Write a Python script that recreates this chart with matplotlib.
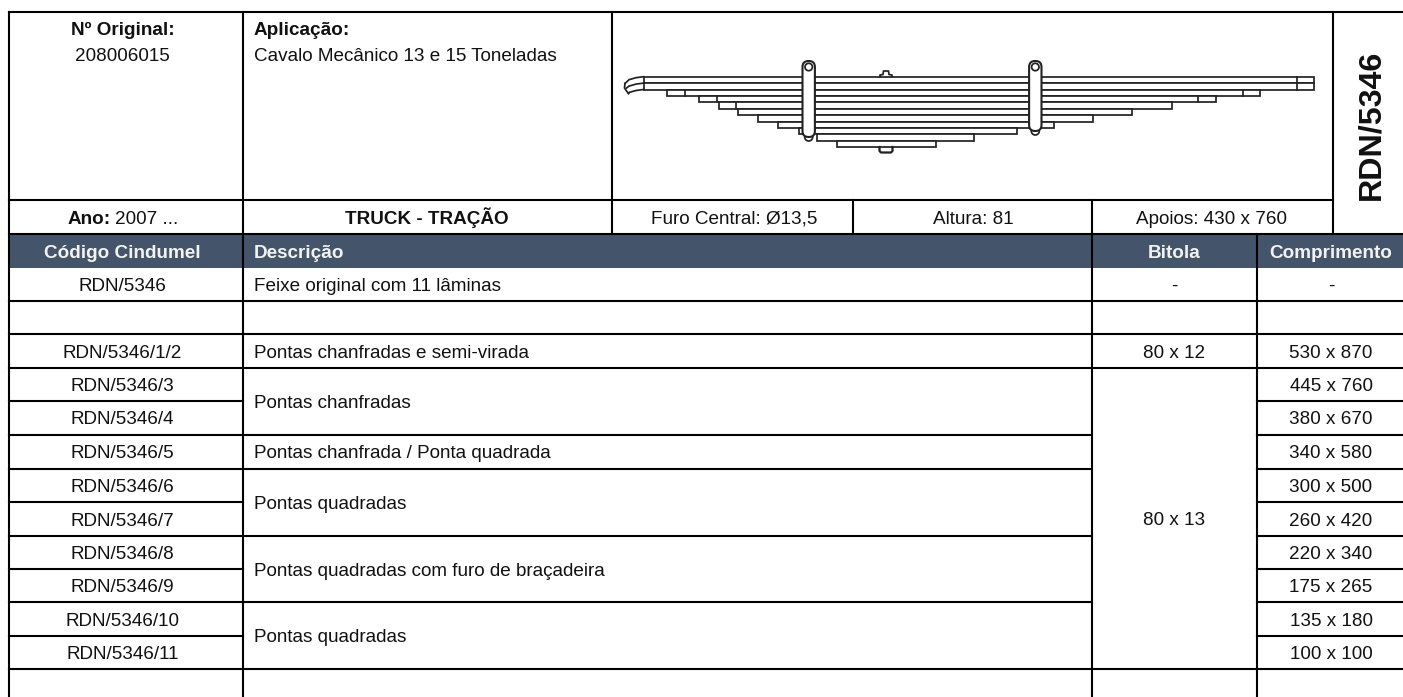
#!/usr/bin/env python3
"""
Ficha tecnica do feixe de molas RDN/5346
"""
import matplotlib
matplotlib.use('Agg')
import matplotlib.pyplot as plt
from matplotlib.patches import Rectangle, Circle, FancyBboxPatch

plt.rcParams['font.family'] = ['Liberation Sans', 'DejaVu Sans']

# table content
headers = ['Código Cindumel', 'Descrição', 'Bitola', 'Comprimento']
codes = ['RDN/5346', '', 'RDN/5346/1/2', 'RDN/5346/3', 'RDN/5346/4', 'RDN/5346/5',
         'RDN/5346/6', 'RDN/5346/7', 'RDN/5346/8', 'RDN/5346/9', 'RDN/5346/10',
         'RDN/5346/11', '']
lengths = ['-', '', '530 x 870', '445 x 760', '380 x 670', '340 x 580', '300 x 500',
           '260 x 420', '220 x 340', '175 x 265', '135 x 180', '100 x 100', '']
# merged cells: text and how many rows each one spans
descriptions = ['Feixe original com 11 lâminas', '', 'Pontas chanfradas e semi-virada',
                'Pontas chanfradas', 'Pontas chanfrada / Ponta quadrada', 'Pontas quadradas',
                'Pontas quadradas com furo de braçadeira', 'Pontas quadradas', '']
description_spans = [1, 1, 1, 2, 1, 2, 2, 2, 1]
gauges = ['-', '', '80 x 12', '80 x 13', '']
gauge_spans = [1, 1, 1, 9, 1]

# pixel grid of the sheet
X_LEFT, X_DESC, X_IMG, X_FURO, X_GAUGE, X_LEN, X_RIGHT, X_END = 9, 243, 612, 853, 1092, 1257, 1333, 1403
Y_TOP, Y_INFO, Y_HEAD, Y_BODY = 12, 200, 234, 268
row_lines = [268, 301, 334, 368, 401, 435, 469, 502, 536, 569, 602, 636, 669, 703]

# spring leaves: left end, right end, inner step left, inner step right
leaf_left = [643.5, 643.5, 667, 699, 718.7, 738, 758, 777.7, 799, 817.3, 836.7]
leaf_right = [1314.3, 1314.3, 1260.3, 1216, 1172, 1132.3, 1093, 1053.7, 1016.7, 974.3, 935.7]
leaf_step_left = [None, None, 684.7, 716.7, 736.3, None, None, None, None, None, None]
leaf_step_right = [1296.7, 1296.7, 1242.7, 1198.3, None, None, None, None, None, None, None]
LEAF_TOP, LEAF_H = 76.7, 6.4

fig = plt.figure(figsize=(14.03, 6.97), dpi=100)
ax = fig.add_axes([0, 0, 1, 1])
ax.set_xlim(0, 1403)
ax.set_ylim(697, 0)
ax.axis('off')

TXT = '#111111'
FS = 13.55
LW = 1.5
SP = 1.25
SPC = '#222222'
BASE = 6.5  # baseline offset under the middle of a row
X_CODE, X_DESC_TXT, X_GAUGE_TXT, X_LEN_TXT = 122.5, 254, 1174, 1331


def hline(x0, x1, y, lw=LW, color='black', z=3):
    ax.plot([x0, x1], [y, y], color=color, lw=lw, solid_capstyle='projecting', zorder=z)


def vline(x, y0, y1, lw=LW, color='black', z=3):
    ax.plot([x, x], [y0, y1], color=color, lw=lw, solid_capstyle='projecting', zorder=z)


def cell(x, y, s, ha='center', **kw):
    ax.text(x, y, s, ha=ha, va='baseline', fontsize=kw.pop('fontsize', FS), color=kw.pop('color', TXT), **kw)


# header band
ax.add_patch(Rectangle((X_LEFT, Y_HEAD), X_END - X_LEFT, Y_BODY - Y_HEAD, fc='#44546A', ec='none', zorder=1))

# grid lines
hline(X_LEFT, X_END, Y_TOP)
hline(X_LEFT, X_RIGHT, Y_INFO)
hline(X_LEFT, X_END, Y_HEAD)
vline(X_LEFT, Y_TOP, 697)
vline(X_DESC, Y_TOP, 697)
vline(X_IMG, Y_TOP, Y_HEAD)
vline(X_FURO, Y_INFO, Y_HEAD)
vline(X_GAUGE, Y_INFO, Y_HEAD)
vline(X_RIGHT, Y_TOP, Y_HEAD)
vline(X_GAUGE, Y_HEAD, 697)
vline(X_LEN, Y_HEAD, 697)

# top block
cell(X_CODE, 35, 'Nº Original:', fontweight='bold')
cell(X_CODE, 61, '208006015')
cell(X_DESC_TXT, 35, 'Aplicação:', ha='left', fontweight='bold')
cell(X_DESC_TXT, 61, 'Cavalo Mecânico 13 e 15 Toneladas', ha='left')
ax.text(1371, 125, 'RDN/5346', rotation=90, ha='center', va='center', fontsize=23.2,
        fontweight='bold', color=TXT)

cell(68, 224, 'Ano:', ha='left', fontweight='bold')
cell(115, 224, '2007 ...', ha='left')
cell(427, 224, 'TRUCK - TRAÇÃO', fontweight='bold')
cell(734, 224, 'Furo Central: Ø13,5')
cell(973, 224, 'Altura: 81')
cell(1212, 224, 'Apoios: 430 x 760')

# header row
head_x = [X_CODE, X_DESC_TXT, X_GAUGE_TXT, X_LEN_TXT]
head_ha = ['center', 'left', 'center', 'center']
for s, x, ha in zip(headers, head_x, head_ha):
    cell(x, 258, s, ha=ha, fontweight='bold', color='#F2F2F2')

# body: code and length columns, one cell per row
for i, (code, length) in enumerate(zip(codes, lengths)):
    y0, y1 = row_lines[i], row_lines[i + 1]
    ym = (y0 + y1) / 2
    cell(X_CODE, ym + BASE, code)
    cell(X_LEN_TXT, ym + BASE, length)
    if i < len(codes) - 1:
        hline(X_LEFT, X_DESC, y1)
        hline(X_LEN, X_END, y1)

# merged cells
pos = 0
for text, span in zip(descriptions, description_spans):
    y0, y1 = row_lines[pos], row_lines[pos + span]
    cell(X_DESC_TXT, (y0 + y1) / 2 + BASE, text, ha='left')
    pos += span
    if pos < len(codes):
        hline(X_DESC, X_GAUGE, y1)
pos = 0
for text, span in zip(gauges, gauge_spans):
    y0, y1 = row_lines[pos], row_lines[pos + span]
    cell(X_GAUGE_TXT, (y0 + y1) / 2 + BASE, text)
    pos += span
    if pos < len(codes):
        hline(X_GAUGE, X_LEN, y1)

# spring drawing
for i in range(len(leaf_left)):
    y = LEAF_TOP + i * LEAF_H
    ax.add_patch(Rectangle((leaf_left[i], y), leaf_right[i] - leaf_left[i], LEAF_H,
                           fc='white', ec=SPC, lw=SP, zorder=4))
    if leaf_step_left[i]:
        ax.plot([leaf_step_left[i]] * 2, [y, y + LEAF_H], color=SPC, lw=SP, zorder=4)
    if leaf_step_right[i]:
        ax.plot([leaf_step_right[i]] * 2, [y, y + LEAF_H], color=SPC, lw=SP, zorder=4)

# curved ends of the two main leaves
for ytip, yroot in [(83.5, 76.7), (88, 83.1), (93.5, 89.5)]:
    xs = [643.5, 636, 629, 625 + (ytip - 83.5) * 0.35]
    ys = [yroot, yroot + 1, yroot + 3, ytip]
    ax.plot(xs, ys, color=SPC, lw=SP, zorder=4)
ax.plot([625, 624.5, 626.5, 628.5], [83.5, 88, 91, 93.5], color=SPC, lw=SP, zorder=4)

# clips
for xc, ytop, ybot in [(808.7, 61, 137), (1035.3, 61, 131)]:
    ax.add_patch(Circle((xc, ybot), 4, fc='white', ec=SPC, lw=SP, zorder=5))
    ax.add_patch(FancyBboxPatch((xc - 6.2, ytop), 12.4, ybot - ytop, boxstyle='round,pad=0,rounding_size=6',
                                fc='white', ec=SPC, lw=SP * 1.2, zorder=6))
    ax.add_patch(Circle((xc, ytop + 6), 3.7, fc='white', ec=SPC, lw=SP, zorder=7))

# centre bolt
ax.plot([880, 880, 883, 883.5, 888.5, 889, 892, 892], [76.7, 75, 74.5, 71, 71, 74.5, 75, 76.7], color=SPC, lw=SP, zorder=4)
ax.plot([879.5, 879.5, 881, 891, 892.5, 892.5], [147, 151, 152.5, 152.5, 151, 147], color=SPC, lw=SP * 1.3, zorder=4)

plt.savefig('out.png', dpi=100)
plt.close()
